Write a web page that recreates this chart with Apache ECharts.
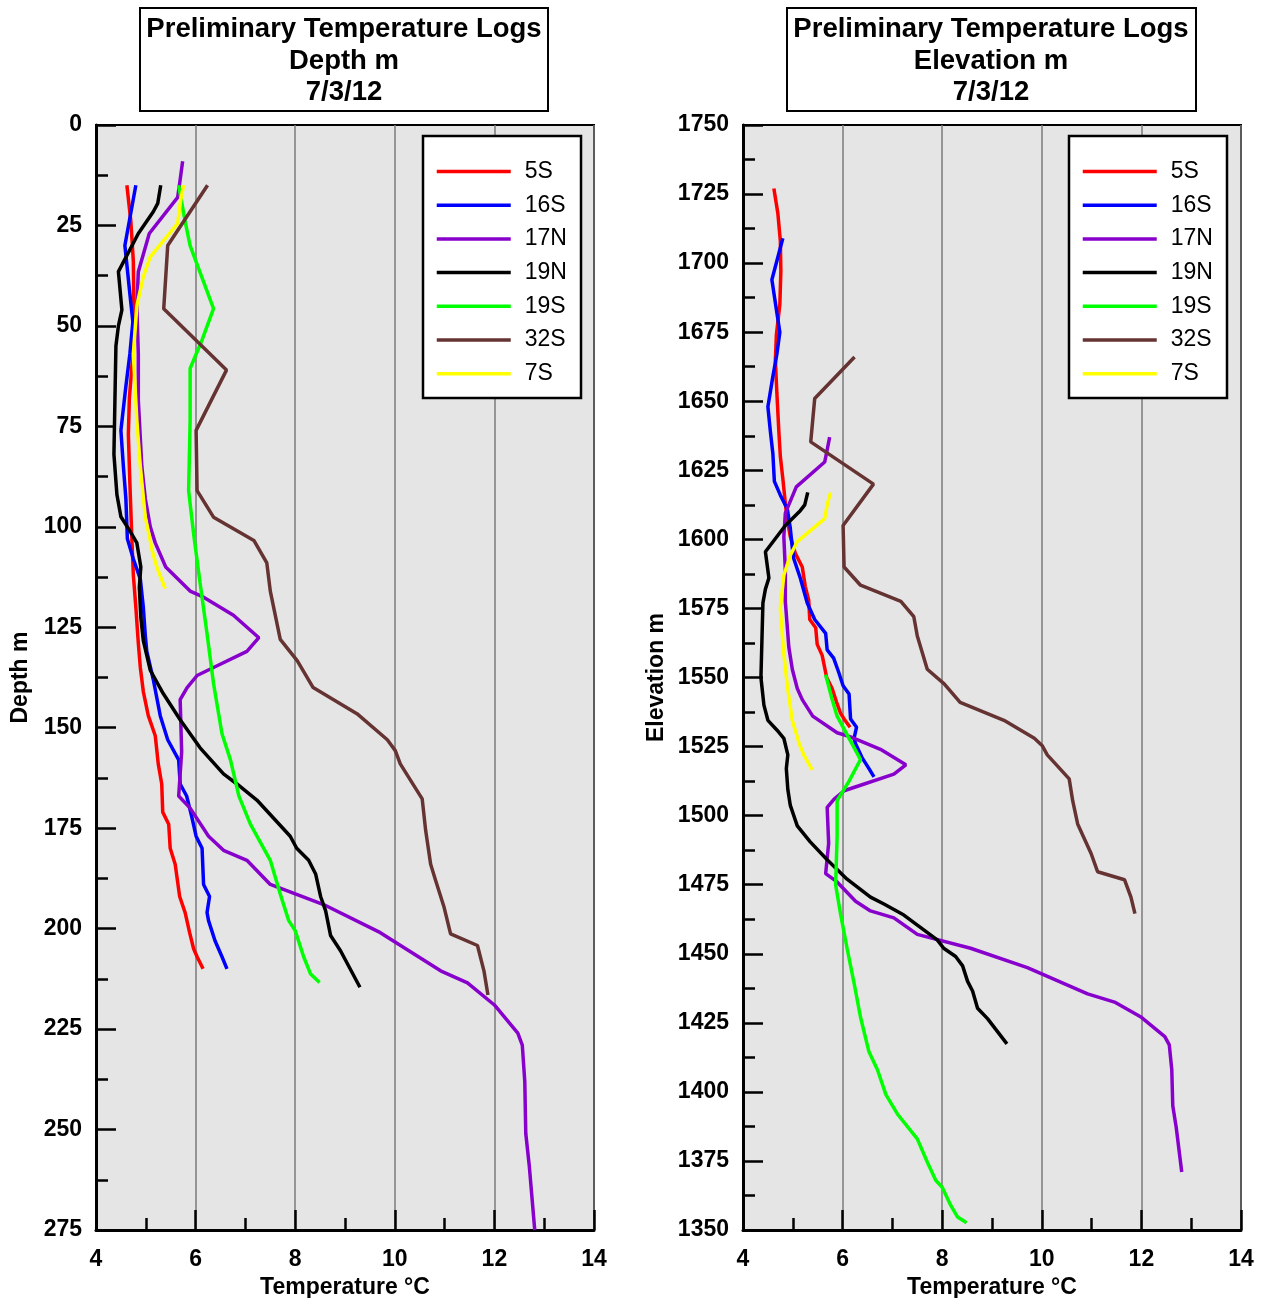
<!DOCTYPE html>
<html>
<head>
<meta charset="utf-8">
<title>Preliminary Temperature Logs</title>
<script src="https://cdn.jsdelivr.net/npm/echarts@6/dist/echarts.min.js"></script>
<style>
  html, body { margin: 0; padding: 0; background: #fff; }
  #chart { width: 1261px; height: 1298px; }
</style>
</head>
<body>
<div id="chart"></div>
<script>
// wells, colours and collar elevations (elevation = collar - depth)
const wells = ['5S', '16S', '17N', '19N', '19S', '32S', '7S'];
const colors = ['#ff0000', '#0000ff', '#8800cc', '#000000', '#00ff00', '#663333', '#ffff00'];
const collarElev = [1742, 1724, 1646, 1632, 1566, 1681, 1632];

// depth (m) / temperature (°C) readings per well
const d5S = [15, 24, 34, 45, 57, 68, 77, 89, 103, 112, 120, 129, 135, 141, 147, 152, 159, 164, 171, 174, 180, 184, 192, 196, 201, 205, 207, 210];
const t5S = [4.62, 4.70, 4.75, 4.76, 4.74, 4.67, 4.65, 4.68, 4.72, 4.75, 4.80, 4.85, 4.89, 4.95, 5.05, 5.19, 5.25, 5.32, 5.34, 5.46, 5.49, 5.59, 5.68, 5.79, 5.88, 5.96, 6.03, 6.15];

const d16S = [15, 30, 42, 49, 57, 65, 76, 85, 93, 103, 108, 113, 120, 127, 131, 138, 147, 153, 158, 164, 167, 172, 177, 180, 189, 192, 196, 198, 203, 207, 210];
const t16S = [4.80, 4.58, 4.68, 4.74, 4.68, 4.60, 4.50, 4.55, 4.60, 4.63, 4.75, 4.89, 4.95, 4.99, 5.02, 5.15, 5.29, 5.44, 5.66, 5.69, 5.82, 5.92, 6.01, 6.13, 6.16, 6.28, 6.23, 6.26, 6.39, 6.53, 6.63];

const d17N = [9, 14.5, 18, 27, 36.5, 45, 57, 68.5, 85, 93, 100, 104, 110, 116, 117.5, 122, 127.6, 131, 135, 137, 140, 143, 156, 167, 170, 177, 180.5, 183, 189, 194, 201, 210.5, 213.5, 219, 226, 229, 238, 251, 259, 275];
const t17N = [5.74, 5.68, 5.64, 5.07, 4.85, 4.82, 4.85, 4.85, 4.92, 4.99, 5.09, 5.19, 5.40, 5.89, 6.16, 6.76, 7.27, 7.03, 6.36, 6.03, 5.83, 5.69, 5.72, 5.66, 5.89, 6.26, 6.56, 7.03, 7.50, 8.57, 9.71, 10.92, 11.46, 12.00, 12.47, 12.56, 12.61, 12.63, 12.70, 12.81];

const d19N = [15, 19.5, 21.6, 27, 36.5, 46, 50, 55, 68.5, 82, 92, 97.5, 101, 104, 110, 115, 122.5, 128.3, 135.7, 141.5, 148, 155, 161.5, 164, 168, 177, 180, 183, 186.4, 192, 195.5, 201.7, 205.5, 214.6];
const t19N = [5.30, 5.24, 5.15, 4.85, 4.45, 4.52, 4.45, 4.40, 4.38, 4.36, 4.42, 4.50, 4.68, 4.82, 4.90, 4.87, 4.90, 4.95, 5.09, 5.35, 5.69, 6.09, 6.56, 6.83, 7.23, 7.90, 8.03, 8.27, 8.41, 8.51, 8.61, 8.71, 8.91, 9.30];

const d19S = [15, 24, 30, 45.7, 53.5, 60.6, 73.5, 91, 101.7, 114, 126.6, 139, 151.5, 158, 167, 174, 183, 191.4, 198, 200.5, 207, 211.3, 213.4];
const t19S = [5.66, 5.79, 5.89, 6.36, 6.13, 5.89, 5.89, 5.86, 5.96, 6.09, 6.23, 6.36, 6.53, 6.70, 6.87, 7.10, 7.50, 7.70, 7.87, 8.00, 8.17, 8.31, 8.49];

const d32S = [15, 30, 45.7, 61, 76, 91, 97.6, 103.4, 109, 116, 128, 133.3, 140, 146.5, 153, 155.7, 159, 167.7, 175.6, 184, 188, 194.7, 201.3, 204.2, 210.5, 216.5];
const t32S = [6.24, 5.44, 5.36, 6.62, 6.01, 6.03, 6.36, 7.17, 7.43, 7.50, 7.70, 8.04, 8.36, 9.24, 9.85, 10.01, 10.11, 10.55, 10.62, 10.72, 10.82, 10.99, 11.12, 11.66, 11.79, 11.87];

const d7S = [15, 18.7, 24.5, 32.8, 37.8, 45, 57, 73.5, 85, 97.6, 101.7, 106, 110, 115.4];
const t7S = [5.76, 5.70, 5.64, 5.09, 4.95, 4.82, 4.75, 4.82, 4.89, 4.99, 5.06, 5.13, 5.22, 5.39];

const depths = [d5S, d16S, d17N, d19N, d19S, d32S, d7S];
const temps = [t5S, t16S, t17N, t19N, t19S, t32S, t7S];

const chart = echarts.init(document.getElementById('chart'));
const font = "'Liberation Sans', Arial, sans-serif";

function xAxisCfg(gridIndex) {
  return {
    type: 'value', gridIndex: gridIndex, min: 4, max: 14, interval: 2,
    name: 'Temperature °C', nameLocation: 'middle', nameGap: 43,
    nameTextStyle: { fontSize: 23, fontWeight: 'bold', color: '#000', fontFamily: font },
    axisLine: { show: true, onZero: false, lineStyle: { color: '#000', width: 3 } },
    axisTick: { show: true, inside: true, length: 20, lineStyle: { color: '#000', width: 2.5 } },
    minorTick: { show: true, splitNumber: 2, length: 12, lineStyle: { color: '#000', width: 2.5 } },
    axisLabel: { fontSize: 23, fontWeight: 'bold', color: '#000', margin: 18, fontFamily: font },
    splitLine: { show: true, lineStyle: { color: '#7a7a7a', width: 1.5 } }
  };
}

function yAxisCfg(gridIndex, name, min, max, inverse, gap) {
  return {
    type: 'value', gridIndex: gridIndex, min: min, max: max, interval: 25, inverse: inverse,
    name: name, nameLocation: 'middle', nameGap: gap,
    nameTextStyle: { fontSize: 23, fontWeight: 'bold', color: '#000', fontFamily: font },
    axisLine: { show: true, onZero: false, lineStyle: { color: '#000', width: 3 } },
    axisTick: { show: true, inside: true, length: 20, lineStyle: { color: '#000', width: 2.5 } },
    minorTick: { show: true, splitNumber: 2, length: 12, lineStyle: { color: '#000', width: 2.5 } },
    axisLabel: {
      fontSize: 23, fontWeight: 'bold', color: '#000', margin: 14, fontFamily: font,
      formatter: function (v) { return String(v); }
    },
    splitLine: { show: false }
  };
}

function legendCfg(left) {
  return {
    orient: 'vertical', left: left, top: 136,
    padding: [24, 10, 10, 12],
    itemWidth: 74, itemHeight: 20, itemGap: 10.7,
    data: wells,
    itemStyle: { opacity: 0 },
    lineStyle: { width: 3.5 },
    textStyle: { fontSize: 23, color: '#000', fontFamily: font, lineHeight: 20, padding: [0, 0, 0, 9] }
  };
}

const series = [];
wells.forEach(function (w, i) {
  const left = temps[i].map(function (t, k) { return [t, depths[i][k]]; });
  const right = temps[i].map(function (t, k) { return [t, collarElev[i] - depths[i][k]]; });
  [[0, left], [1, right]].forEach(function (p) {
    series.push({
      name: w, type: 'line', xAxisIndex: p[0], yAxisIndex: p[0],
      data: p[1], symbol: 'none', smooth: false, animation: false,
      lineStyle: { color: colors[i], width: 3.5 },
      itemStyle: { color: colors[i] }
    });
  });
});

chart.setOption({
  animation: false,
  textStyle: { fontFamily: font },
  title: [
    {
      text: 'Preliminary Temperature Logs\nDepth m\n7/3/12', left: 344, top: 14, padding: 0,
      textAlign: 'center',
      textStyle: { fontSize: 27.5, fontWeight: 'bold', color: '#000', lineHeight: 31.5, fontFamily: font }
    },
    {
      text: 'Preliminary Temperature Logs\nElevation m\n7/3/12', left: 991, top: 14, padding: 0,
      textAlign: 'center',
      textStyle: { fontSize: 27.5, fontWeight: 'bold', color: '#000', lineHeight: 31.5, fontFamily: font }
    }
  ],
  graphic: [
    { type: 'rect', z: 0, shape: { x: 140, y: 8, width: 408, height: 103 }, style: { fill: '#fff', stroke: '#000', lineWidth: 2 } },
    { type: 'rect', z: 0, shape: { x: 787, y: 8, width: 409, height: 103 }, style: { fill: '#fff', stroke: '#000', lineWidth: 2 } },
    { type: 'rect', z: 3, shape: { x: 423, y: 136, width: 158, height: 262 }, style: { fill: '#fff', stroke: '#000', lineWidth: 2.5 } },
    { type: 'rect', z: 3, shape: { x: 1069, y: 136, width: 158, height: 262 }, style: { fill: '#fff', stroke: '#000', lineWidth: 2.5 } }
  ],
  legend: [legendCfg(423), legendCfg(1069)],
  grid: [
    { left: 96, top: 125, width: 498, height: 1105, outerBoundsMode: 'none', show: true, backgroundColor: '#e5e5e5', borderColor: '#000', borderWidth: 2 },
    { left: 743, top: 125, width: 498, height: 1105, outerBoundsMode: 'none', show: true, backgroundColor: '#e5e5e5', borderColor: '#000', borderWidth: 2 }
  ],
  xAxis: [xAxisCfg(0), xAxisCfg(1)],
  yAxis: [
    yAxisCfg(0, 'Depth m', 0, 275, true, 64),
    yAxisCfg(1, 'Elevation m', 1350, 1750, false, 75)
  ],
  series: series
});
</script>
</body>
</html>
